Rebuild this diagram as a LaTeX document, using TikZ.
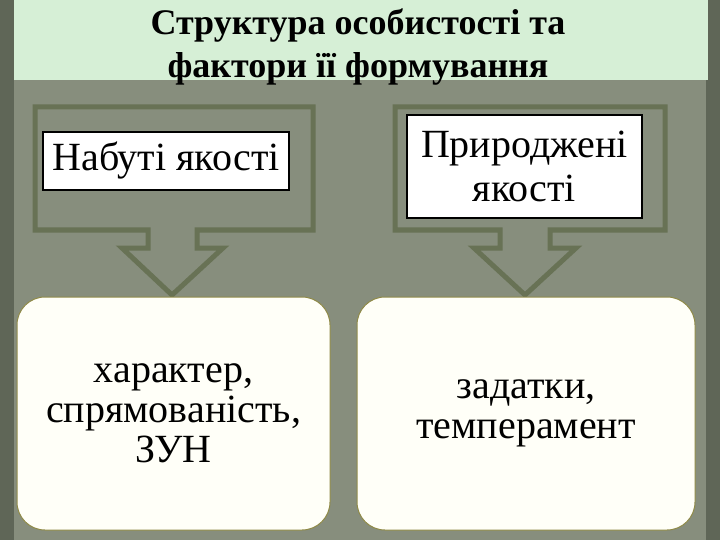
\documentclass[tikz,border=0pt]{standalone}
\usepackage{fontspec}
\setmainfont{Liberation Serif}
\begin{document}
\begin{tikzpicture}[x=1pt,y=-1pt,
  arr/.style={draw=arrowc,line width=5pt,fill=bgc},
  wbox/.style={draw=black,line width=2pt,fill=white,inner sep=0pt,align=center,font=\fontsize{40}{44}\selectfont},
  rbox/.style={draw=olive!50!gray,line width=1pt,fill=cream,rounded corners=28pt,inner sep=0pt,align=center,font=\fontsize{40}{40}\selectfont}]
\definecolor{bgc}{HTML}{878E7D}
\definecolor{edge}{HTML}{5F6657}
\definecolor{arrowc}{HTML}{687255}
\definecolor{banner}{HTML}{D6EFD6}
\definecolor{cream}{HTML}{FFFFF8}
\fill[bgc] (0,0) rectangle (720,540);
\fill[edge] (0,0) rectangle (14,540);
\fill[edge] (706,0) rectangle (720,540);
\useasboundingbox (0,0) rectangle (720,540);
\node[fill=banner,minimum width=694pt,minimum height=80pt,anchor=north west,inner sep=0pt] (ban) at (14,0) {};
\node[font=\bfseries\fontsize{36}{43}\selectfont,align=center,text=black] (title) at (358,47) {Структура особистості та\\фактори її формування};
\draw[arr] (35,107) -- (313,107) -- (313,230) -- (197,230) -- (197,248) -- (223,248) -- (172,295) -- (122,248) -- (148,248) -- (148,230) -- (35,230) -- cycle;
\draw[arr] (395,107) -- (665,107) -- (665,230) -- (550,230) -- (550,248) -- (576,248) -- (525,295) -- (474,248) -- (500,248) -- (500,230) -- (395,230) -- cycle;
\node[wbox,minimum width=246pt,minimum height=58pt] (a) at (166,161) {Набуті якості};
\node[wbox,minimum width=235pt,minimum height=103pt] (b) at (524.5,166.5) {Природжені\\якості};
\node[rbox,minimum width=313pt,minimum height=233pt] (c) at (173.5,413.5) {характер,\\спрямованість,\\ЗУН};
\node[rbox,minimum width=338pt,minimum height=233pt] (d) at (526,413.5) {задатки,\\темперамент};
\end{tikzpicture}
\end{document}
